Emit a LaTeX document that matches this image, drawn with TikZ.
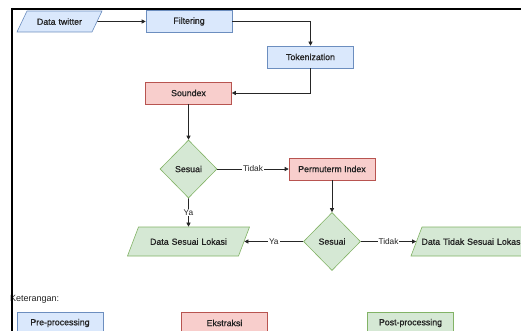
\documentclass[tikz,border=0pt]{standalone}
\usepackage{fontspec}
\setmainfont{Liberation Sans}
\newfontfamily\nodefont{Liberation Sans}[FakeBold=0.8]
\usetikzlibrary{shapes.geometric,arrows.meta}
\definecolor{prefill}{HTML}{DAE8FC}
\definecolor{predraw}{HTML}{6C8EBF}
\definecolor{eksfill}{HTML}{F8CECC}
\definecolor{eksdraw}{HTML}{B85450}
\definecolor{postfill}{HTML}{D5E8D4}
\definecolor{postdraw}{HTML}{82B366}
\definecolor{teks}{HTML}{222222}

\begin{document}
\begin{tikzpicture}[x=1pt,y=-1pt,
    txt/.style={font=\nodefont\fontsize{8.8}{10}\selectfont, text=teks},
    box/.style={rectangle, txt, line width=0.6pt, minimum width=86pt, minimum height=22pt, inner sep=0pt},
    pre/.style={box, fill=prefill, draw=predraw},
    eks/.style={box, fill=eksfill, draw=eksdraw},
    post/.style={box, fill=postfill, draw=postdraw},
    para/.style={trapezium, txt, line width=0.6pt, inner sep=0pt, align=center},
    cek/.style={diamond, txt, fill=postfill, draw=postdraw, line width=0.6pt, inner sep=0pt,
        minimum width=57pt, minimum height=58pt},
    flow/.style={draw=black!85, line width=0.6pt, -{Triangle[length=4pt,width=4pt]}},
    lbl/.style={fill=white, inner sep=1pt, font=\fontsize{8.3}{9}\selectfont, text=teks}
    ]
    \useasboundingbox (0,0) rectangle (521,331);
    \clip (0,0) rectangle (521,331);

    % pre-processing
    \node[para, fill=prefill, draw=predraw, text width=65pt, text height=13.75pt, text depth=7.25pt,
        trapezium left angle=64.5, trapezium right angle=115.5] (twitter) at (59.5,21.5) {Data twitter};
    \node[pre] (filter) at (189,21.5) {Filtering};
    \node[pre] (tok) at (310.5,57) {Tokenization};

    % ekstraksi
    \node[eks] (sound) at (188.5,93) {Soundex};
    \node[cek] (cek1) at (188.5,169) {Sesuai};
    \node[eks] (perm) at (332,169) {Permuterm Index};
    \node[cek] (cek2) at (332,241.5) {Sesuai};

    % hasil
    \node[para, fill=postfill, draw=postdraw, text width=100pt, text height=17.75pt, text depth=11.25pt,
        trapezium left angle=69.2, trapezium right angle=110.8] (lokasi) at (188.5,241.5) {Data Sesuai Lokasi};
    \node[para, fill=postfill, draw=postdraw, text width=100pt, text height=17.75pt, text depth=11.25pt,
        trapezium left angle=69.2, trapezium right angle=110.8] (tidak) at (472,241.5)
        {\makebox[\linewidth][c]{Data Tidak Sesuai Lokasi}};

    \draw[flow] (twitter) -- (filter);
    \draw[flow] (filter.east) -| (tok.north);
    \draw[flow] (tok.south) |- (sound.east);
    \draw[flow] (sound) -- (cek1);
    \draw[flow] (cek1) -- node[lbl] {Tidak} (perm);
    \draw[flow] (cek1) -- node[lbl] {Ya} (lokasi);
    \draw[flow] (perm) -- (cek2);
    \draw[flow] (cek2) -- node[lbl] {Ya} (lokasi);
    \draw[flow] (cek2) -- node[lbl] {Tidak} (tidak);

    % Keterangan
    \node[anchor=west, inner sep=0pt, font=\fontsize{9}{10}\selectfont, text=teks] (ket) at (10,299) {Keterangan:};
    \node[pre] (lgpre) at (60,323) {Pre-processing};
    \node[eks] (lgeks) at (224.5,323) {Ekstraksi};
    \node[post] (lgpost) at (410.5,323) {Post-processing};

    % garis tepi
    \draw[line width=2.2pt] (12,9) -- (521,9);
    \draw[line width=1.6pt] (12,8) -- (12,331);
\end{tikzpicture}
\end{document}
